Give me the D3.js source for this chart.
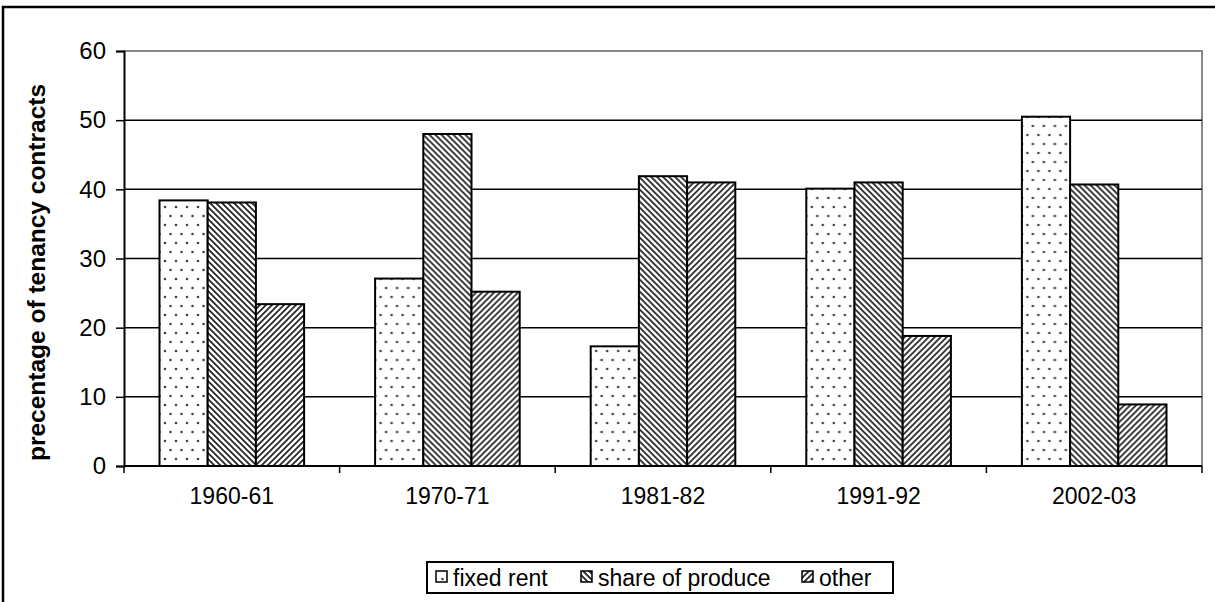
<!DOCTYPE html>
<html>
<head>
<meta charset="utf-8">
<script src="https://cdn.jsdelivr.net/npm/d3@7"></script>
<style>
  body { margin: 0; background: #fff; }
  svg { display: block; font-family: "Liberation Sans", Arial, sans-serif; }
</style>
</head>
<body>
<div id="chart"></div>
<script>
// data
const periods = ["1960-61", "1970-71", "1981-82", "1991-92", "2002-03"];
const seriesNames = ["fixed rent", "share of produce", "other"];
const fixedRent = [38.4, 27.1, 17.3, 40.1, 50.5];
const shareOfProduce = [38.1, 48.0, 41.9, 41.0, 40.7];
const other = [23.4, 25.2, 41.0, 18.8, 8.9];
const yTicks = [0, 10, 20, 30, 40, 50, 60];

const width = 1215, height = 602;
const margin = { top: 51, right: 13, bottom: 136, left: 124 };
const innerW = width - margin.left - margin.right;
const innerH = height - margin.top - margin.bottom;

const svg = d3.select("#chart").append("svg")
    .attr("width", width)
    .attr("height", height);

// fill patterns
const defs = svg.append("defs");
const dots = defs.append("pattern")
    .attr("id", "pat0").attr("patternUnits", "userSpaceOnUse")
    .attr("width", 11).attr("height", 18);
dots.append("rect").attr("width", 11).attr("height", 18).attr("fill", "#fff");
dots.append("circle").attr("cx", 2.5).attr("cy", 3).attr("r", 1.3).attr("fill", "#444");
dots.append("circle").attr("cx", 8).attr("cy", 12).attr("r", 1.3).attr("fill", "#444");

const down = defs.append("pattern")
    .attr("id", "pat1").attr("patternUnits", "userSpaceOnUse")
    .attr("width", 6).attr("height", 6);
down.append("rect").attr("width", 6).attr("height", 6).attr("fill", "#fff");
down.append("path").attr("d", "M-1,-1 L7,7 M-1,5 L1,7 M5,-1 L7,1")
    .attr("stroke", "#222").attr("stroke-width", 1.7);

const up = defs.append("pattern")
    .attr("id", "pat2").attr("patternUnits", "userSpaceOnUse")
    .attr("width", 6).attr("height", 6);
up.append("rect").attr("width", 6).attr("height", 6).attr("fill", "#fff");
up.append("path").attr("d", "M-1,7 L7,-1 M-1,1 L1,-1 M5,7 L7,5")
    .attr("stroke", "#222").attr("stroke-width", 1.7);

// outer chart border
svg.append("rect")
    .attr("x", 3).attr("y", 7)
    .attr("width", width + 10).attr("height", height + 10)
    .attr("fill", "none").attr("stroke", "#000").attr("stroke-width", 2.5);

const g = svg.append("g")
    .attr("transform", `translate(${margin.left}, ${margin.top})`);

const x0 = d3.scaleBand().domain(periods).range([0, innerW]).paddingInner(0).paddingOuter(0);
const x1 = d3.scaleBand().domain(seriesNames).range([35.5, x0.bandwidth() - 35.5]);
const y = d3.scaleLinear().domain([0, 60]).range([innerH, 0]);

// plot area border (top and right), grey
g.append("path")
    .attr("d", `M0,0 H${innerW} V${innerH}`)
    .attr("fill", "none").attr("stroke", "#888").attr("stroke-width", 2);

// gridlines
g.selectAll(".grid").data(yTicks.filter(t => t > 0 && t < 60)).join("line")
    .attr("x1", 0).attr("x2", innerW)
    .attr("y1", d => y(d)).attr("y2", d => y(d))
    .attr("stroke", "#000").attr("stroke-width", 1.5);

// bars
const table = periods.map((p, i) => ({ period: p, values: [fixedRent[i], shareOfProduce[i], other[i]] }));
g.selectAll(".grp").data(table).join("g")
    .attr("transform", d => `translate(${x0(d.period)},0)`)
    .selectAll("rect").data(d => d.values.map((v, k) => ({ name: seriesNames[k], k, v })))
    .join("rect")
    .attr("x", d => x1(d.name))
    .attr("y", d => y(d.v))
    .attr("width", x1.bandwidth())
    .attr("height", d => innerH - y(d.v))
    .attr("fill", d => `url(#pat${d.k})`)
    .attr("stroke", "#000").attr("stroke-width", 2);

// y axis
const yAxis = g.append("g")
    .call(d3.axisLeft(y).tickValues(yTicks).tickSize(8).tickPadding(10));
yAxis.select(".domain").attr("stroke-width", 2);
yAxis.selectAll(".tick line").attr("stroke-width", 1.5);
yAxis.selectAll("text").style("font-size", "24px").attr("fill", "#000");

// x axis with ticks at category boundaries
const xAxis = g.append("g").attr("transform", `translate(0,${innerH})`);
xAxis.append("line").attr("x1", 0).attr("x2", innerW)
    .attr("stroke", "#000").attr("stroke-width", 2);
xAxis.selectAll(".xt").data(periods.concat(["end"])).join("line")
    .attr("x1", (d, i) => i * x0.step()).attr("x2", (d, i) => i * x0.step())
    .attr("y1", 0).attr("y2", 7)
    .attr("stroke", "#000").attr("stroke-width", 1.5);
xAxis.selectAll(".xl").data(periods).join("text")
    .attr("x", d => x0(d) + x0.bandwidth() / 2)
    .attr("y", 38)
    .attr("text-anchor", "middle")
    .style("font-size", "23px")
    .text(d => d);

// y axis title
svg.append("text")
    .attr("transform", `translate(45, ${margin.top + innerH / 2 + 14}) rotate(-90)`)
    .attr("text-anchor", "middle")
    .style("font-size", "24.5px")
    .style("font-weight", "bold")
    .text("precentage of tenancy contracts");

// legend
const legend = svg.append("g");
legend.append("rect")
    .attr("x", 427).attr("y", 562).attr("width", 466).attr("height", 31)
    .attr("fill", "#fff").attr("stroke", "#000").attr("stroke-width", 2);
const legendX = [436, 581, 802];
seriesNames.forEach((name, k) => {
    legend.append("rect")
        .attr("x", legendX[k]).attr("y", 571).attr("width", 11).attr("height", 11)
        .attr("fill", `url(#pat${k})`).attr("stroke", "#000").attr("stroke-width", 1.5);
    legend.append("text")
        .attr("x", legendX[k] + 17).attr("y", 586)
        .style("font-size", "23px")
        .text(name);
});
</script>
</body>
</html>
